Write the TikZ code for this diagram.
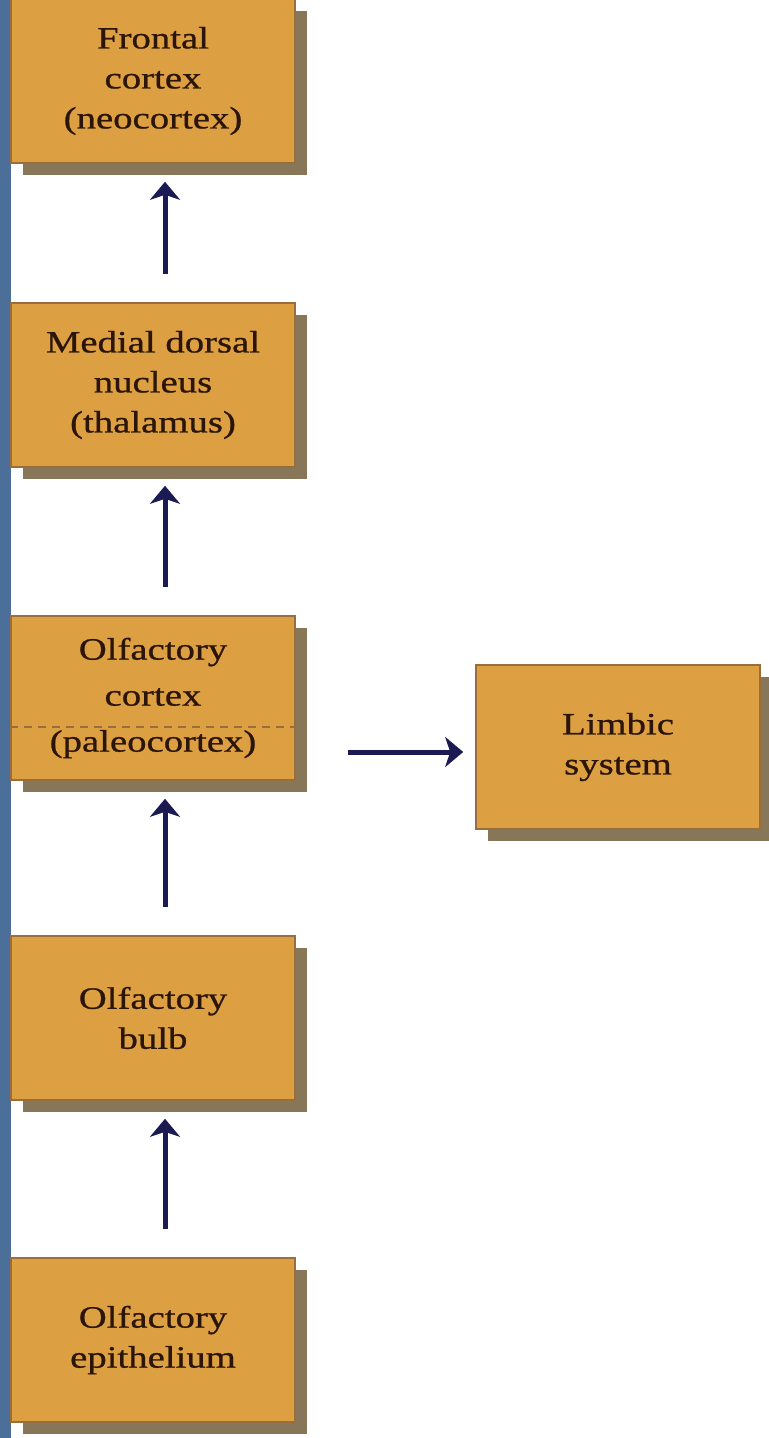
\documentclass[tikz,border=0pt]{standalone}
\usepackage{fontspec}
\setmainfont{Liberation Serif}[FakeStretch=1.25,FakeBold=0.8]
\usetikzlibrary{arrows.meta,shadows}
\definecolor{boxfill}{HTML}{DCA042}
\definecolor{boxline}{HTML}{9A6E3C}
\definecolor{shade}{HTML}{7A6746}
\definecolor{ink}{HTML}{2B1408}
\definecolor{navy}{HTML}{1C1A52}
\definecolor{stripe}{HTML}{4C6F99}
\tikzset{sc/.style={x=.5pt,y=-.5pt},
  bx/.style={draw=boxline,line width=.8pt,fill=boxfill,text=ink,align=center,
    minimum width=142pt,minimum height=82pt,inner sep=0pt,
    font=\fontsize{15.5pt}{20pt}\selectfont,
    drop shadow={shadow xshift=6pt,shadow yshift=-6pt,fill=shade,opacity=.9}},
  ar/.style={navy,line width=2.5pt,-{Stealth[length=9pt,width=15pt,inset=2.5pt]}}}

\begin{document}
\begin{tikzpicture}[sc]
  \useasboundingbox (0,0) rectangle (768,1438);
  \fill[stripe] (0,0) rectangle (11,1438);
  % olfactory pathway, bottom to top
  \node[bx] (fc) at (153,81) {Frontal\\cortex\\(neocortex)};
  \node[bx] (md) at (153,385) {Medial dorsal\\nucleus\\(thalamus)};
  \node[bx] (oc) at (153,698) {Olfactory\\[3pt]cortex\\[3pt](paleocortex)};
  \node[bx] (ob) at (153,1018) {Olfactory\\bulb};
  \node[bx] (oe) at (153,1340) {Olfactory\\epithelium};
  \node[bx] (ls) at (618,747) {Limbic\\system};
  \draw[boxline,line width=.8pt,dash pattern=on 4pt off 3pt] ([yshift=-14.5pt]oc.west) -- ([yshift=-14.5pt]oc.east);
  % arrows
  \draw[ar,shorten <=14pt,shorten >=9pt] ([xshift=6pt]md.north) -- ([xshift=6pt]fc.south);
  \draw[ar,shorten <=14pt,shorten >=9pt] ([xshift=6pt]oc.north) -- ([xshift=6pt]md.south);
  \draw[ar,shorten <=14pt,shorten >=9pt] ([xshift=6pt]ob.north) -- ([xshift=6pt]oc.south);
  \draw[ar,shorten <=14pt,shorten >=9pt] ([xshift=6pt]oe.north) -- ([xshift=6pt]ob.south);
  \draw[ar,shorten <=26pt,shorten >=6pt] ([yshift=-2.5pt]oc.east |- ls.west) -- ([yshift=-2.5pt]ls.west);
\end{tikzpicture}
\end{document}
